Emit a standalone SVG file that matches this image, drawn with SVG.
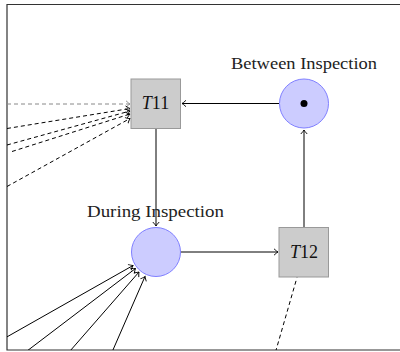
<svg xmlns="http://www.w3.org/2000/svg" width="400" height="352" viewBox="0 0 400 352">
<style>
.place{fill:#ccccff;stroke:#8080ff;stroke-width:1}
.trans{fill:#cccccc;stroke:#999999;stroke-width:1}
.arc{fill:none;stroke:#000;stroke-width:1}
.dash{fill:none;stroke:#000;stroke-width:1;stroke-dasharray:4 3}
.gdash{fill:none;stroke:#888;stroke-width:1;stroke-dasharray:4 3}
.lbl{font-family:"Liberation Serif","Times New Roman",serif;font-size:16.5px;fill:#222}
.tl{font-family:"Liberation Serif","Times New Roman",serif;font-size:18px;fill:#111}
</style>
<defs>
<marker id="arr" markerUnits="userSpaceOnUse" markerWidth="10" markerHeight="10" viewBox="-5 -5 10 10" refX="0" refY="0" orient="auto">
<path d="M -4,-3.2 Q -1.2,-0.6 0,0 Q -1.2,0.6 -4,3.2" fill="none" stroke="#000" stroke-width="0.9"/>
</marker>
<marker id="garr" markerUnits="userSpaceOnUse" markerWidth="10" markerHeight="10" viewBox="-5 -5 10 10" refX="0" refY="0" orient="auto">
<path d="M -4,-3.2 Q -1.2,-0.6 0,0 Q -1.2,0.6 -4,3.2" fill="none" stroke="#888" stroke-width="0.9"/>
</marker>
<clipPath id="frame"><rect x="7" y="4.5" width="400" height="345.5"/></clipPath>
</defs>
<path d="M 400,4.5 L 7,4.5 L 7,350 L 400,350" fill="none" stroke="#333" stroke-width="1.2"/>
<g id="connectors">
<line class="arc" x1="279" y1="103.5" x2="182" y2="103.5" marker-end="url(#arr)"/>
<line class="arc" x1="156" y1="129" x2="156" y2="226" marker-end="url(#arr)"/>
<line class="arc" x1="181" y1="252" x2="278" y2="252" marker-end="url(#arr)"/>
<line class="arc" x1="304" y1="227" x2="304" y2="130" marker-end="url(#arr)"/>
<g clip-path="url(#frame)">
<line class="gdash" x1="7" y1="104" x2="130" y2="104" marker-end="url(#garr)"/>
<line class="dash" x1="7" y1="128.5" x2="130" y2="108.5" marker-end="url(#arr)"/>
<line class="dash" x1="7" y1="145" x2="130" y2="111" marker-end="url(#arr)"/>
<line class="dash" x1="12" y1="151.5" x2="130" y2="114" marker-end="url(#arr)"/>
<line class="dash" x1="7" y1="186.5" x2="130" y2="118.5" marker-end="url(#arr)"/>
<line class="arc" x1="5" y1="338" x2="133" y2="265.5" marker-end="url(#arr)"/>
<line class="arc" x1="27" y1="351" x2="135.5" y2="268.5" marker-end="url(#arr)"/>
<line class="arc" x1="70" y1="351" x2="139" y2="272" marker-end="url(#arr)"/>
<line class="arc" x1="112.5" y1="351" x2="145" y2="276.5" marker-end="url(#arr)"/>
<line class="dash" x1="275.5" y1="352" x2="297" y2="277.5"/>
</g>
</g>
<g id="between">
<circle class="place" cx="304" cy="103.5" r="24.5"/>
<circle cx="304" cy="103.5" r="3.5" fill="#000"/>
<text class="lbl" x="304" y="69" text-anchor="middle" textLength="146" lengthAdjust="spacingAndGlyphs">Between Inspection</text>
</g>
<g id="during">
<circle class="place" cx="156" cy="252" r="24.5"/>
<text class="lbl" x="155.5" y="216.7" text-anchor="middle" textLength="137" lengthAdjust="spacingAndGlyphs">During Inspection</text>
</g>
<g id="t11">
<rect class="trans" x="131" y="79" width="49.5" height="49.5"/>
<text class="tl" x="155.5" y="109.3" text-anchor="middle"><tspan font-style="italic">T</tspan>11</text>
</g>
<g id="t12">
<rect class="trans" x="279" y="227.5" width="49.5" height="49.5"/>
<text class="tl" x="304" y="258.3" text-anchor="middle"><tspan font-style="italic">T</tspan>12</text>
</g>
</svg>
